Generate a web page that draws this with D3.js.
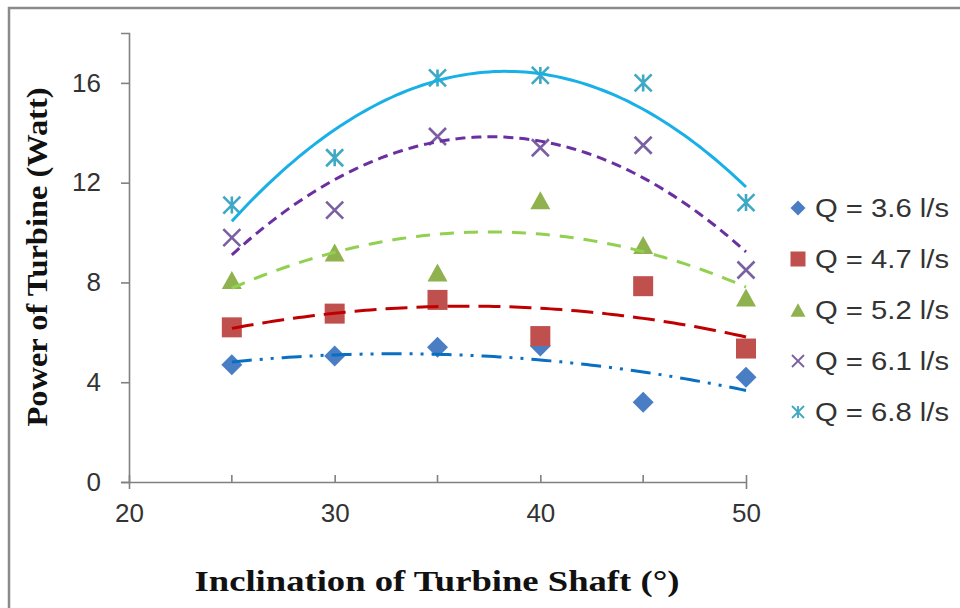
<!DOCTYPE html>
<html>
<head>
<meta charset="utf-8">
<script src="https://cdn.jsdelivr.net/npm/d3@7/dist/d3.min.js"></script>
<style>
  html, body { margin: 0; padding: 0; background: #fff; }
  svg { display: block; }
</style>
</head>
<body>
<svg id="chart" width="960" height="608"></svg>
<script>
// Shaft inclination angles (degrees)
const angles = [25, 30, 35, 40, 45, 50];

// Flow rates and measured turbine power (W) per flow rate
const seriesNames = ["Q = 3.6 l/s", "Q = 4.7 l/s", "Q = 5.2 l/s", "Q = 6.1 l/s", "Q = 6.8 l/s"];
const powerQ36 = [4.7, 5.05, 5.4, 5.45, 3.2, 4.2];
const powerQ47 = [6.2, 6.75, 7.3, 5.85, 7.85, 5.35];
const powerQ52 = [8.1, 9.2, 8.4, 11.3, 9.5, 7.4];
const powerQ61 = [9.8, 10.9, 13.85, 13.4, 13.5, 8.5];
const powerQ68 = [11.1, 13.0, 16.2, 16.3, 16.0, 11.2];

// Axis ticks
const xTicks = [20, 30, 40, 50];
const xMinorTicks = [25, 35, 45];
const yTicks = [0, 4, 8, 12, 16];

const seriesValues = [powerQ36, powerQ47, powerQ52, powerQ61, powerQ68];

// Styling per series: marker shape/colour and trendline colour/dash
const styles = [
  { marker: "diamond",  fill: "#4a7ec4", line: "#0a6fc2", dash: "20,8,3,8,3,8" },
  { marker: "square",   fill: "#c0504d", line: "#c00000", dash: "22,9" },
  { marker: "triangle", fill: "#8fb24f", line: "#92d050", dash: "14,10" },
  { marker: "cross",    fill: "#7a5fa3", line: "#6a2fa0", dash: "10,6" },
  { marker: "star",     fill: "#3fa8c4", line: "#18b0e6", dash: null }
];

const svg = d3.select("#chart");

// Outer frame
svg.append("rect")
  .attr("x", 9).attr("y", 8).attr("width", 1000).attr("height", 700)
  .attr("fill", "none").attr("stroke", "#8a8a8a").attr("stroke-width", 2.5);

const x = d3.scaleLinear().domain([20, 50]).range([129, 746]);
const y = d3.scaleLinear().domain([0, 18]).range([482, 33]);

const tickFont = "'Liberation Sans', Arial, sans-serif";

// Y axis
const yAxis = d3.axisLeft(y).tickValues(yTicks).tickSize(8).tickPadding(20).tickFormat(d3.format("d"));
const gy = svg.append("g").attr("transform", `translate(${x(20)},0)`).call(yAxis);
gy.select(".domain").attr("stroke", "#808080").attr("stroke-width", 1.6);
gy.selectAll(".tick line").attr("stroke", "#808080").attr("stroke-width", 1.6);
gy.selectAll(".tick text")
  .attr("font-family", tickFont)
  .attr("font-size", 26).attr("fill", "#333");

// X axis: major ticks with labels, minor ticks pointing inward
const xAxis = d3.axisBottom(x).tickValues(xTicks).tickSizeInner(-7).tickSizeOuter(0).tickPadding(22).tickFormat(d3.format("d"));
const gx = svg.append("g").attr("transform", `translate(0,${y(0)})`).call(xAxis);
gx.select(".domain").attr("stroke", "#808080").attr("stroke-width", 1.6);
gx.selectAll(".tick line").attr("stroke", "#808080").attr("stroke-width", 1.6);
gx.selectAll(".tick text")
  .attr("font-family", tickFont)
  .attr("font-size", 26).attr("fill", "#333");
gx.selectAll(".tick").filter(d => d === 20 || d === 50)
  .append("line").attr("y1", 0).attr("y2", 7)
  .attr("stroke", "#808080").attr("stroke-width", 1.6);
gx.selectAll(".minor").data(xMinorTicks).enter().append("line")
  .attr("x1", d => x(d)).attr("x2", d => x(d))
  .attr("y1", 0).attr("y2", -7)
  .attr("stroke", "#808080").attr("stroke-width", 1.6);

// Axis titles
svg.append("text")
  .attr("x", 437).attr("y", 591)
  .attr("text-anchor", "middle")
  .attr("font-family", "'Liberation Serif', 'Times New Roman', serif")
  .attr("font-weight", "bold").attr("font-size", 29)
  .attr("textLength", 485).attr("lengthAdjust", "spacingAndGlyphs")
  .attr("fill", "#111")
  .text("Inclination of Turbine Shaft (°)");

svg.append("text")
  .attr("transform", "translate(47,257) rotate(-90)")
  .attr("text-anchor", "middle")
  .attr("font-family", "'Liberation Serif', 'Times New Roman', serif")
  .attr("font-weight", "bold").attr("font-size", 29)
  .attr("textLength", 339).attr("lengthAdjust", "spacingAndGlyphs")
  .attr("fill", "#111")
  .text("Power of Turbine (Watt)");

// Marker drawing helper
function drawMarker(g, type, cx, cy, s, st, sw) {
  const r = s / 2;
  if (type === "diamond") {
    g.append("path")
      .attr("d", `M${cx},${cy - r}L${cx + r},${cy}L${cx},${cy + r}L${cx - r},${cy}Z`)
      .attr("fill", st.fill);
  } else if (type === "square") {
    g.append("rect").attr("x", cx - r).attr("y", cy - r)
      .attr("width", s).attr("height", s).attr("fill", st.fill);
  } else if (type === "triangle") {
    const h = s * 0.9;
    g.append("path")
      .attr("d", `M${cx},${cy - h / 2}L${cx + r},${cy + h / 2}L${cx - r},${cy + h / 2}Z`)
      .attr("fill", st.fill);
  } else if (type === "cross") {
    g.append("path")
      .attr("d", `M${cx - r},${cy - r}L${cx + r},${cy + r}M${cx - r},${cy + r}L${cx + r},${cy - r}`)
      .attr("stroke", st.fill).attr("stroke-width", sw).attr("fill", "none");
  } else if (type === "star") {
    g.append("path")
      .attr("d", `M${cx - r},${cy - r}L${cx + r},${cy + r}M${cx - r},${cy + r}L${cx + r},${cy - r}M${cx},${cy - r}L${cx},${cy + r}`)
      .attr("stroke", st.fill).attr("stroke-width", sw).attr("fill", "none");
  }
}

const markerSizes = { diamond: 21, square: 20, triangle: 20, cross: 17, star: 17 };
const legendSizes = { diamond: 15, square: 15, triangle: 15, cross: 12, star: 12 };

// Data markers
const markerLayer = svg.append("g");
seriesValues.forEach((vals, i) => {
  const st = styles[i];
  vals.forEach((v, j) => {
    drawMarker(markerLayer, st.marker, x(angles[j]), y(v), markerSizes[st.marker], st, 2.6);
  });
});

// Second-order polynomial least-squares trendline
function quadFit(xs, ys) {
  let s = [0, 0, 0, 0, 0], t = [0, 0, 0];
  xs.forEach((xv, k) => {
    for (let p = 0; p <= 4; p++) s[p] += Math.pow(xv, p);
    for (let p = 0; p <= 2; p++) t[p] += Math.pow(xv, p) * ys[k];
  });
  const A = [[s[0], s[1], s[2], t[0]], [s[1], s[2], s[3], t[1]], [s[2], s[3], s[4], t[2]]];
  for (let c = 0; c < 3; c++) {
    let piv = c;
    for (let r = c + 1; r < 3; r++) if (Math.abs(A[r][c]) > Math.abs(A[piv][c])) piv = r;
    [A[c], A[piv]] = [A[piv], A[c]];
    for (let r = 0; r < 3; r++) {
      if (r === c) continue;
      const f = A[r][c] / A[c][c];
      for (let k = c; k < 4; k++) A[r][k] -= f * A[c][k];
    }
  }
  const coef = [A[0][3] / A[0][0], A[1][3] / A[1][1], A[2][3] / A[2][2]];
  return xv => coef[0] + coef[1] * xv + coef[2] * xv * xv;
}

const trendLayer = svg.append("g");
const line = d3.line().x(d => x(d[0])).y(d => y(d[1]));
seriesValues.forEach((vals, i) => {
  const st = styles[i];
  const f = quadFit(angles, vals);
  const pts = d3.range(angles[0], angles[angles.length - 1] + 0.001, 0.25).map(a => [a, f(a)]);
  trendLayer.append("path")
    .datum(pts)
    .attr("d", line)
    .attr("fill", "none")
    .attr("stroke", st.line)
    .attr("stroke-width", 3)
    .attr("stroke-dasharray", st.dash);
});

// Legend
const legend = svg.append("g");
const legendY = [208, 259, 310, 361, 412];
seriesNames.forEach((name, i) => {
  const st = styles[i];
  const ly = legendY[i];
  drawMarker(legend, st.marker, 798, ly, legendSizes[st.marker], st, 1.8);
  legend.append("text")
    .attr("x", 815).attr("y", ly + 9)
    .attr("font-family", tickFont)
    .attr("font-size", 25).attr("fill", "#333")
    .attr("textLength", 134).attr("lengthAdjust", "spacingAndGlyphs")
    .text(name);
});
</script>
</body>
</html>
